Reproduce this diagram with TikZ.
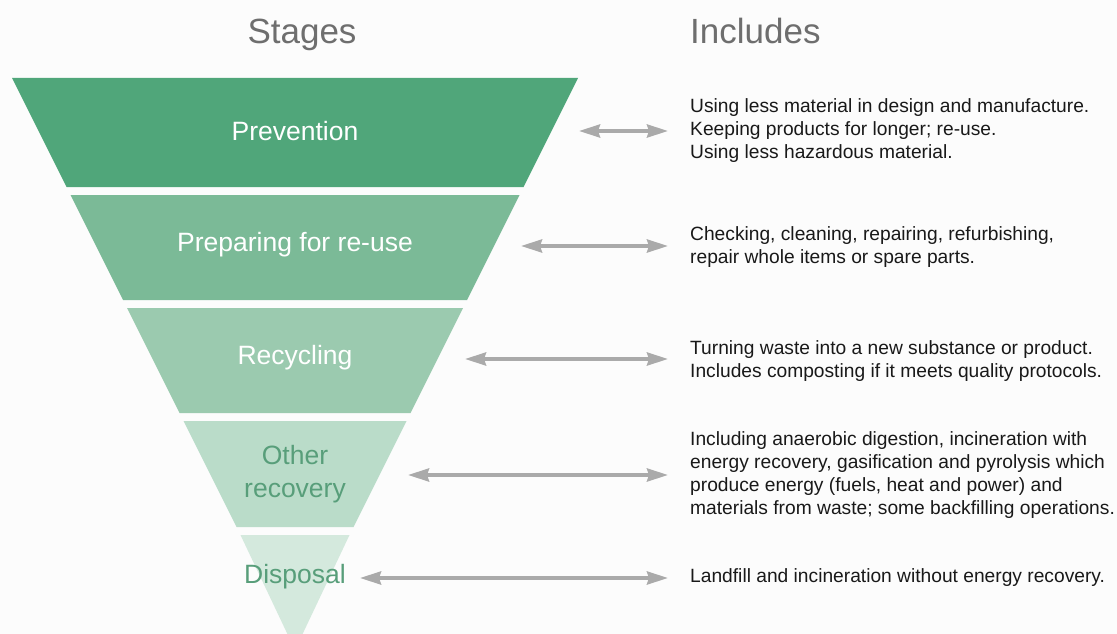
\documentclass[tikz,border=0pt]{standalone}
\usepackage{fontspec}
\setmainfont{Liberation Sans}
\usetikzlibrary{arrows.meta}

\definecolor{bg}{RGB}{252,252,252}
\definecolor{bandA}{RGB}{80,166,122}
\definecolor{bandB}{RGB}{123,186,151}
\definecolor{bandC}{RGB}{155,202,175}
\definecolor{bandD}{RGB}{186,220,201}
\definecolor{bandE}{RGB}{212,233,221}
\definecolor{labelgreen}{RGB}{88,158,122}
\definecolor{headgray}{RGB}{110,110,110}
\definecolor{arrowgray}{RGB}{170,170,170}
\definecolor{bodytext}{RGB}{25,25,25}

\begin{document}
\begin{tikzpicture}[x=1pt,y=-1pt,
  header/.style={font=\fontsize{35}{40}\selectfont, text=headgray, inner sep=0pt, anchor=base},
  stagelabel/.style={font=\fontsize{26.5}{33}\selectfont, align=center, inner sep=0pt},
  info/.style={font=\fontsize{19.2}{23}\selectfont, text=bodytext, align=left,
    anchor=west, inner sep=0pt},
  link/.style={draw=arrowgray, line width=3.5pt, shorten >=22pt,
    {Stealth[length=21pt,width=13pt,inset=2pt]}-{Stealth[length=21pt,width=13pt,inset=2pt]}}]

% canvas
\fill[bg] (0,0) rectangle (1117,634);
\useasboundingbox (0,0) rectangle (1117,634);

% headings
\node[header] (hstages) at (302,44) {Stages};
\node[header, anchor=base west] (hincl) at (690,44) {Includes};

% inverted pyramid bands
\begin{scope}
  \clip (0,0) rectangle (1117,634);
  \fill[bandA] (12,78) -- (578,78) -- (523.5,187) -- (66.5,187) -- cycle;
  \fill[bandB] (70.5,195) -- (519.5,195) -- (467,300) -- (123,300) -- cycle;
  \fill[bandC] (127,308) -- (463,308) -- (410.5,413) -- (179.5,413) -- cycle;
  \fill[bandD] (183.5,421) -- (406.5,421) -- (353.5,527) -- (236.5,527) -- cycle;
  \fill[bandE] (240.5,535) -- (349.5,535) -- (295,650) -- cycle;
\end{scope}

% stage names
\node[stagelabel, text=white] (s1) at (295,131) {Prevention};
\node[stagelabel, text=white] (s2) at (295,245) {Preparing for re-use};
\node[stagelabel, text=white] (s3) at (295,358) {Recycling};
\node[stagelabel, text=labelgreen] (s4) at (295,474) {Other\\recovery};
\node[stagelabel, text=labelgreen] (s5) at (295,577) {Disposal};

% descriptions
\node[info] (d1) at (690,131) {Using less material in design and manufacture.\\Keeping products for longer; re-use.\\Using less hazardous material.};
\node[info] (d2) at (690,247) {Checking, cleaning, repairing, refurbishing,\\repair whole items or spare parts.};
\node[info] (d3) at (690,361) {Turning waste into a new substance or product.\\Includes composting if it meets quality protocols.};
\node[info] (d4) at (690,475) {Including anaerobic digestion, incineration with\\energy recovery, gasification and pyrolysis which\\produce energy (fuels, heat and power) and\\materials from waste; some backfilling operations.};
\node[info] (d5) at (690,578) {Landfill and incineration without energy recovery.};

% arrow start points beside the pyramid
\coordinate (a1) at (579,131);
\coordinate (a2) at (521,246);
\coordinate (a3) at (465,359);
\coordinate (a4) at (408,475);
\coordinate (a5) at (360,578);

\draw[link] (a1) -- (a1 -| d1.west);
\draw[link] (a2) -- (a2 -| d2.west);
\draw[link] (a3) -- (a3 -| d3.west);
\draw[link] (a4) -- (a4 -| d4.west);
\draw[link] (a5) -- (a5 -| d5.west);
\end{tikzpicture}
\end{document}
